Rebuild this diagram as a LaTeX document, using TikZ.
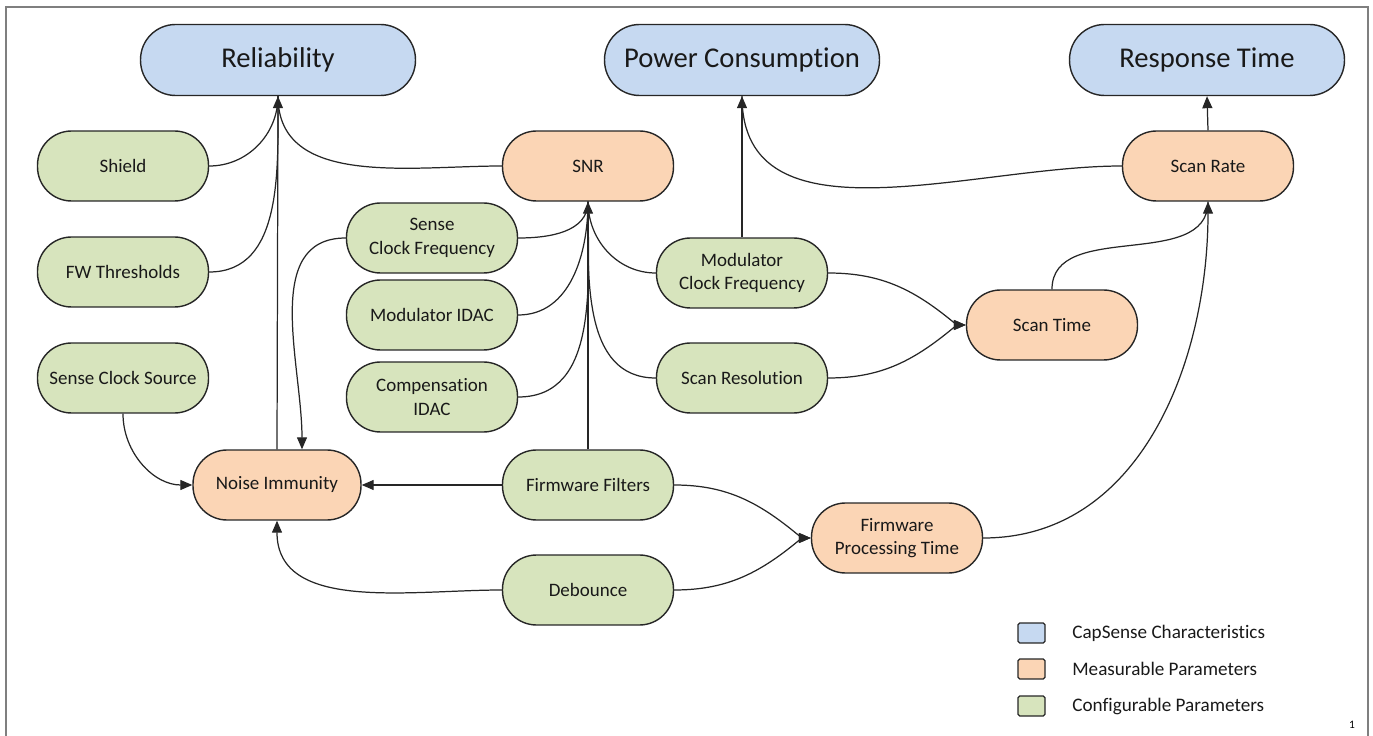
\documentclass[tikz,border=0pt]{standalone}
\usepackage{fontspec}
\setmainfont[Ligatures=NoCommon]{Carlito}
\usetikzlibrary{arrows.meta,calc}
\definecolor{cblue}{HTML}{C6D9F1}
\definecolor{corange}{HTML}{FBD5B5}
\definecolor{cgreen}{HTML}{D7E4BD}
\definecolor{cline}{HTML}{262626}
\definecolor{cframe}{HTML}{7F7F7F}
\begin{document}
\begin{tikzpicture}[x=0.02cm,y=0.02cm,
  box/.style={draw=cline, line width=0.8pt, rounded corners=0.68cm, minimum height=1.4cm, minimum width=3.42cm, inner sep=0pt, align=center, text=black!90, font=\fontsize{10.8}{13.3}\selectfont},
  charbox/.style={box, fill=cblue, minimum width=5.5cm, minimum height=1.42cm, rounded corners=0.7cm, font=\fontsize{16.3}{19}\selectfont},
  measbox/.style={box, fill=corange},
  confbox/.style={box, fill=cgreen},
  conn/.style={draw=cline, line width=0.7pt},
  arr/.style={conn, -{Triangle[width=0.2cm,length=0.24cm]}},
  legbox/.style={draw=cline, line width=0.7pt, rounded corners=1pt, minimum width=0.54cm, minimum height=0.4cm, inner sep=0pt},
  legtext/.style={anchor=west, inner sep=0pt, text=black!90, font=\fontsize{10.9}{13}\selectfont}
]
\useasboundingbox (0,0) rectangle (1373,-736);
\draw[cframe, line width=1.1pt] (6,-736) -- (6,-7) -- (1368,-7) -- (1368,-736);

% characteristics
\node[charbox] (rel) at (278,-60) {Reliability};
\node[charbox] (pc)  at (742,-60) {Power Consumption};
\node[charbox] (rt)  at (1207,-60) {Response Time};

% configurable
\node[confbox] (shield) at (123,-166) {Shield};
\node[confbox] (fwt)    at (123,-272) {FW Thresholds};
\node[confbox] (scs)    at (123,-378) {Sense Clock Source};
\node[confbox] (scf)    at (432,-238) {Sense\\Clock Frequency};
\node[confbox] (midac)  at (432,-315) {Modulator IDAC};
\node[confbox] (cidac)  at (432,-397) {Compensation\\IDAC};
\node[confbox] (ff)     at (588,-485) {Firmware Filters};
\node[confbox] (deb)    at (588,-590) {Debounce};
\node[confbox] (mcf)    at (742,-273) {Modulator\\Clock Frequency};
\node[confbox] (sres)   at (742,-378) {Scan Resolution};

% measurable
\node[measbox, minimum width=3.36cm] (ni) at (277,-485) {Noise Immunity};
\node[measbox] (snr) at (588,-166) {SNR};
\node[measbox] (st)  at (1052,-325) {Scan Time};
\node[measbox] (sr)  at (1208,-166) {Scan Rate};
\node[measbox] (fpt) at (897,-538) {Firmware\\Processing Time};

% to Reliability
\draw[conn] (shield.east) to[out=0,in=-90] (rel.south);
\draw[conn] (fwt.east) to[out=0,in=-90] (rel.south);
\draw[conn] (snr.west) to[out=180,in=-90] (rel.south);
\draw[arr] (ni.north) -- (rel.south);

% to SNR
\draw[conn] (scf.east) to[out=0,in=-90] (snr.south);
\draw[conn] (midac.east) to[out=0,in=-90] (snr.south);
\draw[conn] (cidac.east) to[out=0,in=-90] (snr.south);
\draw[conn] (mcf.west) to[out=180,in=-90] (snr.south);
\draw[conn] (sres.west) to[out=180,in=-90] (snr.south);
\draw[arr] (ff.north) -- (snr.south);

% to Noise Immunity
\draw[arr] (scf.west) to[out=180,in=90] ($(ni.north)+(25,0)$);
\draw[arr] (scs.south) to[out=-90,in=180] (ni.west);
\draw[arr] (ff.west) -- (ni.east);
\draw[arr] (deb.west) to[out=180,in=-90] (ni.south);

% to Power Consumption
\draw[conn] (sr.west) to[out=180,in=-90] (pc.south);
\draw[arr] (mcf.north) -- (pc.south);

% to Scan Time
\draw[arr] (mcf.east) to[out=0,in=140] ($(st.west)+(-9,0)$) -- (st.west);
\draw[arr] (sres.east) to[out=0,in=-140] ($(st.west)+(-9,0)$) -- (st.west);

% to Firmware Processing Time
\draw[arr] (ff.east) to[out=0,in=140] ($(fpt.west)+(-9,0)$) -- (fpt.west);
\draw[arr] (deb.east) to[out=0,in=-140] ($(fpt.west)+(-9,0)$) -- (fpt.west);

% to Scan Rate
\draw[conn] (st.north) to[out=90,in=-90] (sr.south);
\draw[arr] (fpt.east) to[out=0,in=-90] (sr.south);

% to Response Time
\draw[arr] (sr.north) -- (rt.south);

% legend
\node[legbox, fill=cblue]   (lg1) at (1031.5,-633) {};
\node[legbox, fill=corange] (lg2) at (1031.5,-669) {};
\node[legbox, fill=cgreen]  (lg3) at (1031.5,-706) {};
\node[legtext] (lt1) at (1072,-633) {CapSense Characteristics};
\node[legtext] (lt2) at (1072,-669) {Measurable Parameters};
\node[legtext] (lt3) at (1072,-706) {Configurable Parameters};

\node[inner sep=0pt, font=\fontsize{6.5}{8}\selectfont] (pg) at (1352,-725) {1};
\end{tikzpicture}
\end{document}
